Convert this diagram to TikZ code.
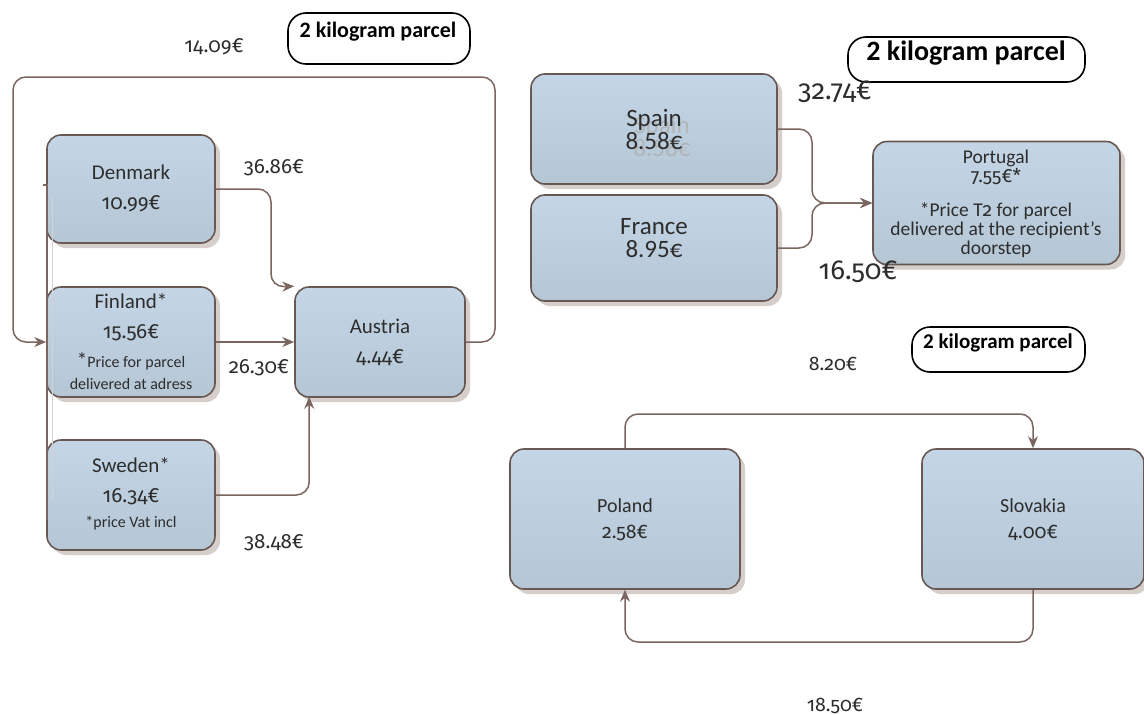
\documentclass[tikz,border=0pt]{standalone}
\usepackage{fontspec}
\setmainfont{Carlito}
\newfontfamily\nf{Fira Sans}[Numbers=OldStyle,Scale=0.98]
\usetikzlibrary{arrows.meta,shadows,calc}
\definecolor{boxfill}{RGB}{181,198,213}
\definecolor{boxtop}{RGB}{196,214,230}
\definecolor{boxline}{RGB}{104,88,84}
\definecolor{conncol}{RGB}{122,101,95}
\definecolor{shadowcol}{RGB}{214,206,202}
\definecolor{txtcol}{RGB}{45,45,45}
\tikzset{
  cbox/.style={draw=boxline, line width=1.6pt, rounded corners=14pt,
    top color=boxtop, bottom color=boxfill, inner sep=0pt,
    drop shadow={shadow xshift=5pt, shadow yshift=-5pt, fill=shadowcol, opacity=1}},
  tagbox/.style={draw=black, line width=1.6pt, rounded corners=18pt, fill=white, inner sep=0pt},
  conn/.style={draw=conncol, line width=1.5pt, rounded corners=13pt,
    -{Stealth[length=12pt,width=10pt,inset=4pt]}},
  lbl/.style={inner sep=0pt, text=txtcol, align=center},
  tagtxt/.style={inner sep=0pt, text=black, font=\bfseries},
  fA/.style={font=\fontsize{21}{30}\selectfont},
  fN/.style={font=\fontsize{16}{22}\selectfont},
  fB/.style={font=\fontsize{25}{23}\selectfont},
  fP/.style={font=\fontsize{19.5}{19}\selectfont},
  fS/.style={font=\fontsize{20}{26}\selectfont},
}
\begin{document}
\begin{tikzpicture}[x=1pt,y=-1pt]
\useasboundingbox (0,0) rectangle (1144,715);

% ---------------- left group ----------------
\node[tagbox, minimum width=182pt, minimum height=51pt] (tagL) at (379,38.5) {};
\node[tagtxt, font=\bfseries\fontsize{22}{24}\selectfont] (tagLt) at (378,32) {2 kilogram parcel};

\node[cbox, minimum width=168pt, minimum height=108pt] (dk) at (131,189) {};
\node[cbox, minimum width=168pt, minimum height=110pt] (fi) at (131,342) {};
\node[cbox, minimum width=168pt, minimum height=110pt] (sw) at (131,495) {};
\node[cbox, minimum width=170pt, minimum height=110pt] (au) at (380,342) {};

\node[lbl, fA] (dkt) at (131,188) {Denmark\\{\nf 10.99€}};
\node[lbl, fA] (fit) at (131,317) {Finland*\\{\nf 15.56€}};
\node[lbl, fN] (fin) at (131,371) {{\fontsize{21}{22}\selectfont*}Price for parcel\\delivered at adress};
\node[lbl, fA] (swt) at (131,481) {Sweden*\\{\nf 16.34€}};
\node[lbl, fN] (swn) at (131,523) {*price Vat incl};
\node[lbl, fA] (aut) at (380,342) {Austria\\{\nf 4.44€}};

\draw[conn] (au.east) -| (495,77) -| (13,342) -- (fi.west);
\draw[conn] (dk.east) -| (271,287) -- (au.north west);
\draw[conn] (fi.east) -- (au.west);
\draw[conn] (sw.east) -| ($(au.south west)+(15,-1)$);

\coordinate (lv0) at (43,185);
\coordinate (lv1) at (47,185);
\coordinate (lv2) at (47,520);
\draw[draw=conncol, line width=1.2pt] (lv0) -- (lv1) -- (lv2);
\coordinate (lw1) at (52,197);
\coordinate (lw2) at (52,500);
\draw[draw=conncol!30, line width=1pt] (lw1) -- (lw2);

\node[lbl, fA] (p1409) at (214,47) {\nf 14.09€};
\node[lbl, fA] (p3686) at (274,168) {\nf 36.86€};
\node[lbl, fA] (p2630) at (259,368) {\nf 26.30€};
\node[lbl, fA] (p3848) at (274,543) {\nf 38.48€};

% ---------------- right top group ----------------
\node[tagbox, minimum width=237pt, minimum height=45pt] (tagR) at (966.5,59.5) {};
\node[tagtxt, font=\bfseries\fontsize{28}{30}\selectfont] (tagRt) at (966,53) {2 kilogram parcel};

\node[cbox, minimum width=246pt, minimum height=110pt] (sp) at (654,129) {};
\node[cbox, minimum width=246pt, minimum height=106pt] (fr) at (654,248) {};
\node[cbox, minimum width=247pt, minimum height=123pt] (pt) at (996.5,203) {};

\node[lbl, fB, text=gray!65, opacity=0.7] (spg) at (662,136) {Spain\\8.58€};
\node[lbl, fB] (spt) at (654,129) {Spain\\8.58€};
\node[lbl, fB] (frt) at (654,238) {France\\8.95€};
\node[lbl, fP] (ptt) at (996,167) {Portugal\\{\nf 7.55€*}};
\node[lbl, fP] (ptn) at (996,230) {*Price T{\nf 2} for parcel\\delivered at the recipient’s\\doorstep};

\draw[conn] (sp.east) -| (812,203) -- (pt.west);
\draw[conn] (fr.east) -| (812,203) -- (pt.west);

\node[lbl, font=\fontsize{28}{28}\selectfont] (p3274) at (835,92) {\nf 32.74€};
\node[lbl, font=\fontsize{28}{28}\selectfont] (p1650) at (858,272) {\nf 16.50€};

% ---------------- bottom right group ----------------
\node[tagbox, minimum width=173pt, minimum height=45pt] (tagB) at (998.5,349.5) {};
\node[tagtxt, font=\bfseries\fontsize{21}{22}\selectfont] (tagBt) at (998,343) {2 kilogram parcel};

\node[cbox, minimum width=230pt, minimum height=140pt] (pl) at (625,519) {};
\node[cbox, minimum width=222pt, minimum height=140pt] (sk) at (1033,519) {};

\node[lbl, fS] (plt) at (625,520) {Poland\\{\nf 2.58€}};
\node[lbl, fS] (skt) at (1033,520) {Slovakia\\{\nf 4.00€}};

\draw[conn] (pl.north) -- (625,414) -| (sk.north);
\draw[conn] (sk.south) -- (1033,642) -| (pl.south);

\node[lbl, fS] (p820) at (833,364) {\nf 8.20€};
\node[lbl, fS] (p1850) at (835,706) {\nf 18.50€};
\end{tikzpicture}
\end{document}
